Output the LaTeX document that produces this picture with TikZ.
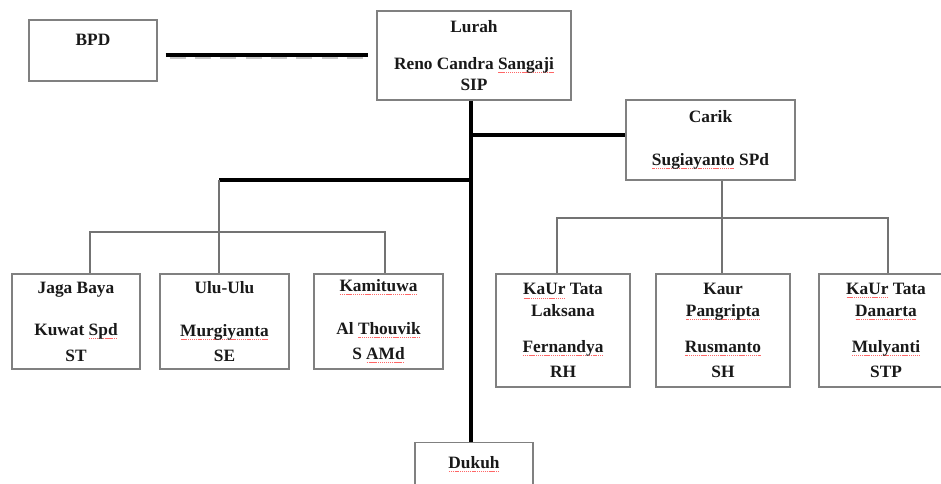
\documentclass[tikz,border=0pt]{standalone}
\usepackage{fontspec}
\setmainfont{Liberation Serif}
\usetikzlibrary{calc}
\newsavebox\sqbox
\newcommand\sq[1]{\sbox\sqbox{#1}\leavevmode\rlap{\lower2.6pt\hbox to \wd\sqbox{\color{red!60}\xleaders\hbox{\kern0.25pt\rule{0.9pt}{0.6pt}\kern0.25pt}\hfil}}\usebox\sqbox}
\tikzset{
  box/.style={draw=black!50, line width=0.9pt, fill=white, align=center,
    inner sep=2pt, text=black!90, font=\bfseries\fontsize{13}{16}\selectfont},
  thickline/.style={black, line width=3pt},
  trunkline/.style={black, line width=3.6pt},
  grayline/.style={black!55, line width=2.2pt},
}
\begin{document}
\begin{tikzpicture}[x=0.75pt,y=-0.75pt]
\useasboundingbox (0,0) rectangle (941,484);
\clip (0,0) rectangle (941,484);
\fill[white] (0,0) rectangle (941,484);

% boxes
\node[box, minimum width=96pt, minimum height=45.75pt, text depth=16pt] (BPD) at (93,50.5) {BPD};
\node[box, minimum width=145.5pt, minimum height=66.75pt] (Lurah) at (474,55.5)
  {Lurah\\[12pt]Reno Candra \sq{Sangaji}\\SIP};
\node[box, minimum width=126.75pt, minimum height=60pt] (Carik) at (710.5,140)
  {Carik\\[16pt]\sq{Sugiayanto} SPd};

\node[box, minimum width=96pt, minimum height=71.25pt] (Jaga) at (76,321.5)
  {Jaga Baya\\[16pt]Kuwat \sq{Spd}\\[3pt]ST};
\node[box, minimum width=96.75pt, minimum height=71.25pt] (Ulu) at (224.5,321.5)
  {Ulu-Ulu\\[16pt]\sq{Murgiyanta}\\[3pt]SE};
\node[box, minimum width=96.75pt, minimum height=71.25pt] (Kam) at (378.5,321.5)
  {\sq{Kamituwa}\\[16pt]Al \sq{Thouvik}\\[3pt]S \sq{AMd}};

\node[box, minimum width=100.5pt, minimum height=84.75pt] (Lak) at (563,330.5)
  {\sq{KaUr} Tata\\Laksana\\[11pt]\sq{Fernandya}\\[3pt]RH};
\node[box, minimum width=100.5pt, minimum height=84.75pt] (Pang) at (723,330.5)
  {Kaur\\\sq{Pangripta}\\[11pt]\sq{Rusmanto}\\[3pt]SH};
\node[box, minimum width=100.5pt, minimum height=84.75pt] (Dan) at (886,330.5)
  {\sq{KaUr} Tata\\\sq{Danarta}\\[11pt]\sq{Mulyanti}\\[3pt]STP};

\node[box, anchor=north, minimum width=88.5pt, inner ysep=10.6pt, text depth=60pt] (Dukuh) at (474,442)
  {\sq{Dukuh}};

% named junction points
\coordinate (t0) at ([xshift=-2.25pt]Lurah.south);
\coordinate (cj) at ([yshift=3.75pt]Carik.west);
\coordinate (lj) at (219,180);
\coordinate (lA) at (90,232);
\coordinate (lB) at (385,232);
\coordinate (rc) at ([xshift=8.6pt]Carik.south);
\coordinate (rA) at (557,218);
\coordinate (rB) at (888,218);

% BPD -- Lurah
\draw[black!22, line width=1.6pt, dash pattern=on 12pt off 7pt, shorten <=9pt, shorten >=8pt]
  ([yshift=-1.6pt]BPD.east |- Lurah.west) -- ([yshift=-1.6pt]Lurah.west);
\draw[thickline, shorten <=6pt, shorten >=6pt] (BPD.east |- Lurah.west) -- (Lurah.west);

% trunk
\draw[trunkline] (t0) -- (t0 |- Dukuh.north);
\draw[thickline] (t0 |- cj) -- (cj);
\draw[thickline] (lj) -- (lj -| t0);

% left group
\draw[grayline] (lj) -- (lj |- Ulu.north);
\draw[grayline] (lA |- Jaga.north) -- (lA) -- (lB) -- (lB |- Kam.north);

% right group
\draw[grayline] (rc) -- (rc |- Pang.north);
\draw[grayline] (rA |- Lak.north) -- (rA) -- (rB) -- (rB |- Dan.north);
\end{tikzpicture}
\end{document}
